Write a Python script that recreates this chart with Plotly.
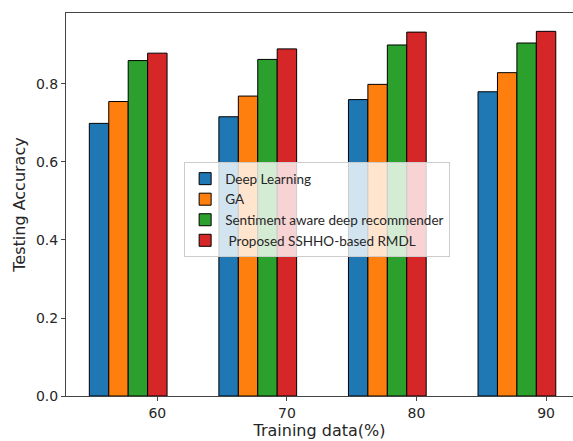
import plotly.graph_objects as go

training = [60, 70, 80, 90]
series_names = ["Deep Learning", "GA", "Sentiment aware deep recommender", " Proposed SSHHO-based RMDL"]
deep_learning = [0.699, 0.716, 0.760, 0.780]
ga = [0.755, 0.769, 0.799, 0.829]
sentiment = [0.860, 0.863, 0.900, 0.905]
proposed = [0.879, 0.890, 0.933, 0.935]
offsets = [-4.5, -3.0, -1.5, 0.0]
colors = ["#1f77b4", "#ff7f0e", "#2ca02c", "#d62728"]
y_ticks = [0.0, 0.2, 0.4, 0.6, 0.8]

fig = go.Figure()
for name, vals, off, col in zip(series_names, [deep_learning, ga, sentiment, proposed], offsets, colors):
    fig.add_trace(go.Bar(
        x=[t + off for t in training], y=vals, name=name, width=1.5,
        marker=dict(color=col, line=dict(color="black", width=1)),
    ))

fig.update_layout(
    width=573, height=441,
    margin=dict(l=66, r=0, t=13, b=45),
    plot_bgcolor="white", paper_bgcolor="white",
    barmode="overlay",
    font=dict(family="DejaVu Sans", color="#262626"),
    showlegend=True,
    legend=dict(
        x=0.233, y=0.61, xanchor="left", yanchor="top",
        bgcolor="rgba(255,255,255,0.8)", bordercolor="#cccccc", borderwidth=1,
        font=dict(family="Lato", size=13.5, color="#262626"),
        tracegroupgap=0, itemwidth=30,
    ),
)
fig.update_xaxes(
    range=[52.95, 92.08], tickvals=training, ticktext=[str(t) for t in training],
    showgrid=False, zeroline=False, showline=True, linecolor="#444444", linewidth=1,
    mirror=True, ticks="outside", ticklen=4, tickcolor="#444444",
    tickfont=dict(size=14),
    title=dict(text="Training data(%)", font=dict(size=16), standoff=4),
)
fig.update_yaxes(
    range=[0, 0.982], tickvals=y_ticks, tickformat=".1f",
    showgrid=False, zeroline=False, showline=True, linecolor="#444444", linewidth=1,
    ticks="outside", ticklen=4, tickcolor="#444444",
    tickfont=dict(size=14),
    title=dict(text="Testing Accuracy", font=dict(size=16), standoff=6),
)

fig.write_html("out.html")
